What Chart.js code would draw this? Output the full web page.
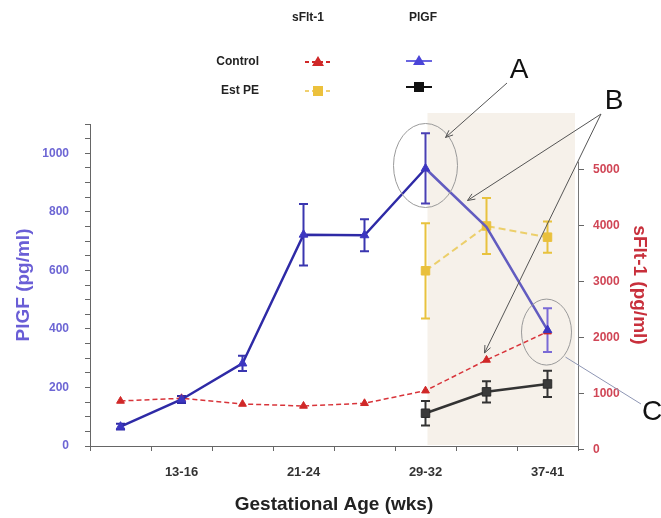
<!DOCTYPE html>
<html>
<head>
<meta charset="utf-8">
<script src="https://cdn.jsdelivr.net/npm/chart.js@4.4.1/dist/chart.umd.min.js"></script>
<style>
  html, body { margin: 0; padding: 0; background: #fff; }
  #wrap { width: 661px; height: 518px; }
</style>
</head>
<body>
<div id="wrap"><canvas id="chart" width="661" height="518"></canvas></div>
<script>
// gestational age groups (only every other one is labelled)
const ages = ['9-12', '13-16', '17-20', '21-24', '25-28', '29-32', '33-36', '37-41'];
const shownAges = ['13-16', '21-24', '29-32', '37-41'];

// PlGF (pg/ml), left axis
const plgfControl    = [66, 159, 282, 722, 720, 948, 748, 396];
const plgfControlErr = [10, 12, 26, 105, 55, 120, 0, 75];
const plgfEstPE      = [null, null, null, null, null, 112, 185, 212];
const plgfEstPEErr   = [0, 0, 0, 0, 0, 42, 36, 45];

// sFlt-1 (pg/ml), right axis
const sfltControl    = [875, 923, 821, 786, 834, 1059, 1607, 2113];
const sfltEstPE      = [null, null, null, null, null, 3200, 4000, 3800];
const sfltEstPEErr   = [0, 0, 0, 0, 0, 850, 500, 280];

const plgfTicks = [0, 200, 400, 600, 800, 1000];
const sfltTicks = [0, 1000, 2000, 3000, 4000, 5000];

const FONT = '"Liberation Sans", Arial, sans-serif';

// shaded "Est PE" region behind the data
const shadePlugin = {
    id: 'shade',
    beforeDatasetsDraw(chart) {
        const {ctx, chartArea, scales} = chart;
        const x0 = scales.x.getPixelForValue(5) + 2;
        ctx.save();
        ctx.fillStyle = '#f6f1ea';
        ctx.fillRect(x0, chartArea.top - 11, chartArea.right - 3 - x0, chartArea.bottom - chartArea.top + 10);
        // short right axis line
        ctx.strokeStyle = '#777';
        ctx.lineWidth = 1;
        ctx.beginPath();
        ctx.moveTo(chartArea.right + 0.5, chartArea.bottom);
        ctx.lineTo(chartArea.right + 0.5, scales.y1.getPixelForValue(5150));
        ctx.stroke();
        ctx.restore();
    }
};

// vertical error bars with caps
const errorBarPlugin = {
    id: 'errorBars',
    beforeDatasetsDraw(chart) {
        const {ctx} = chart;
        chart.data.datasets.forEach((ds, di) => {
            if (!ds.errors) return;
            const meta = chart.getDatasetMeta(di);
            const scale = chart.scales[ds.yAxisID];
            ctx.save();
            ctx.lineWidth = ds.errWidth || 2;
            ds.data.forEach((v, i) => {
                const e = ds.errors[i];
                if (v == null || !e) return;
                const x = meta.data[i].x;
                const yTop = scale.getPixelForValue(v + e);
                const yBot = scale.getPixelForValue(v - e);
                ctx.strokeStyle = Array.isArray(ds.errColor) ? ds.errColor[i] : ds.errColor;
                ctx.beginPath();
                ctx.moveTo(x, yTop); ctx.lineTo(x, yBot);
                ctx.moveTo(x - 4.5, yTop); ctx.lineTo(x + 4.5, yTop);
                ctx.moveTo(x - 4.5, yBot); ctx.lineTo(x + 4.5, yBot);
                ctx.stroke();
            });
            ctx.restore();
        });
    }
};

function arrow(ctx, x1, y1, x2, y2, head) {
    ctx.beginPath();
    ctx.moveTo(x1, y1);
    ctx.lineTo(x2, y2);
    ctx.stroke();
    if (!head) return;
    const a = Math.atan2(y2 - y1, x2 - x1);
    ctx.beginPath();
    ctx.moveTo(x2 - 8 * Math.cos(a - 0.4), y2 - 8 * Math.sin(a - 0.4));
    ctx.lineTo(x2, y2);
    ctx.lineTo(x2 - 8 * Math.cos(a + 0.4), y2 - 8 * Math.sin(a + 0.4));
    ctx.stroke();
}

function marker(ctx, style, x, y, color, dashed, lineColor) {
    ctx.save();
    ctx.strokeStyle = lineColor || color;
    ctx.lineWidth = 2;
    if (dashed) ctx.setLineDash([4, 3]);
    ctx.beginPath();
    ctx.moveTo(x - 13, y); ctx.lineTo(x + 13, y);
    ctx.stroke();
    ctx.setLineDash([]);
    ctx.fillStyle = color;
    ctx.beginPath();
    if (style === 'triangle') {
        ctx.moveTo(x, y - 6); ctx.lineTo(x + 6, y + 4); ctx.lineTo(x - 6, y + 4);
    } else {
        ctx.rect(x - 5, y - 5, 10, 10);
    }
    ctx.closePath();
    ctx.fill();
    ctx.restore();
}

// legend table, ellipses, arrows and letters
const overlayPlugin = {
    id: 'overlay',
    afterDraw(chart) {
        const {ctx, scales} = chart;
        const x = i => scales.x.getPixelForValue(i);
        ctx.save();
        ctx.fillStyle = '#222';
        ctx.font = 'bold 12px ' + FONT;
        ctx.textBaseline = 'middle';
        ctx.textAlign = 'center';
        ctx.fillText('sFlt-1', 308, 18);
        ctx.fillText('PlGF', 423, 18);
        ctx.textAlign = 'right';
        ctx.fillText('Control', 259, 62);
        ctx.fillText('Est PE', 259, 91);
        marker(ctx, 'triangle', 318, 62, '#d02828', true);
        marker(ctx, 'square', 318, 91, '#ecc13c', true, '#f0d070');
        marker(ctx, 'triangle', 419, 61, '#4a44d8', false, '#6a66e0');
        marker(ctx, 'square', 419, 87, '#111', false);

        // ellipses around the PlGF points
        const peak = {x: x(5), y: scales.y.getPixelForValue(plgfControl[5])};
        const last = {x: x(7), y: scales.y.getPixelForValue(plgfControl[7])};
        ctx.strokeStyle = '#9a9a9a';
        ctx.lineWidth = 1;
        ctx.beginPath();
        ctx.ellipse(peak.x, peak.y - 3, 32, 42, 0, 0, Math.PI * 2);
        ctx.stroke();
        ctx.beginPath();
        ctx.ellipse(last.x - 1, last.y + 2, 25, 33, 0, 0, Math.PI * 2);
        ctx.stroke();

        // arrows
        ctx.strokeStyle = '#555';
        arrow(ctx, 507, 83, peak.x + 20, peak.y - 31, true);
        arrow(ctx, 601, 114, peak.x + 42, peak.y + 32, true);
        const red6 = {x: x(6), y: scales.y1.getPixelForValue(sfltControl[6])};
        arrow(ctx, 601, 114, red6.x - 2, red6.y - 7, true);
        ctx.strokeStyle = '#8e96b4';
        arrow(ctx, 641, 404, last.x + 18, last.y + 27, false);

        ctx.fillStyle = '#111';
        ctx.font = '28px ' + FONT;
        ctx.textAlign = 'center';
        ctx.fillText('A', 519, 70);
        ctx.fillText('B', 614, 101);
        ctx.fillText('C', 652, 412);
        ctx.restore();
    }
};

const ctx = document.getElementById('chart');
new Chart(ctx, {
    type: 'line',
    data: {
        labels: ages,
        datasets: [
            {
                label: 'PlGF Control',
                data: plgfControl,
                errors: plgfControlErr,
                errColor: ['#2e2aa6', '#2e2aa6', '#3a36b0', '#3a36b0', '#3a36b0', '#4a40b4', '#6a62c8', '#7a6ad6'],
                yAxisID: 'y',
                borderColor: '#2e2aa6',
                segment: {borderColor: c => c.p0DataIndex >= 5 ? '#625cc0' : undefined},
                borderWidth: 2.5,
                pointStyle: 'triangle',
                pointRadius: [5, 5, 5, 5, 5, 5, 0, 5],
                pointBackgroundColor: '#3c36c0',
                pointBorderColor: '#3c36c0',
                pointBorderWidth: 1
            },
            {
                label: 'sFlt-1 Control',
                data: sfltControl,
                yAxisID: 'y1',
                borderColor: '#d8343a',
                borderDash: [5, 3],
                borderWidth: 1.5,
                pointStyle: 'triangle',
                pointRadius: 4.5,
                pointBackgroundColor: '#d02828',
                pointBorderColor: '#d02828',
                pointBorderWidth: 1
            },
            {
                label: 'sFlt-1 Est PE',
                data: sfltEstPE,
                errors: sfltEstPEErr,
                errColor: '#e8c23e',
                yAxisID: 'y1',
                borderColor: '#eccf6a',
                borderDash: [7, 4],
                borderWidth: 2,
                pointStyle: 'rect',
                pointRadius: 6,
                pointBackgroundColor: '#e9c03c',
                pointBorderColor: '#e9c03c',
                pointBorderWidth: 1
            },
            {
                label: 'PlGF Est PE',
                data: plgfEstPE,
                errors: plgfEstPEErr,
                errColor: '#333',
                yAxisID: 'y',
                borderColor: '#333',
                borderWidth: 2.5,
                pointStyle: 'rect',
                pointRadius: 6,
                pointBackgroundColor: '#3a3a3a',
                pointBorderColor: '#2a2a2a',
                pointBorderWidth: 1
            }
        ]
    },
    options: {
        responsive: false,
        animation: false,
        layout: {padding: {top: 124, left: 0, right: 0, bottom: 0}},
        plugins: {legend: {display: false}, tooltip: {enabled: false}},
        scales: {
            x: {
                offset: true,
                grid: {offset: true, drawOnChartArea: false, tickLength: 5, color: '#666'},
                border: {color: '#666'},
                ticks: {
                    autoSkip: false, maxRotation: 0, padding: 14, color: '#333',
                    font: {family: FONT, size: 13, weight: 'bold'},
                    callback: (v, i) => shownAges.includes(ages[i]) ? ages[i] : ''
                },
                title: {
                    display: true, text: 'Gestational Age (wks)', color: '#222',
                    font: {family: FONT, size: 19, weight: 'bold'}, padding: {top: 0, bottom: 2}
                },
                afterFit: s => { s.height = 72; }
            },
            y: {
                position: 'left',
                min: 0,
                max: 1100,
                grid: {drawOnChartArea: false, tickLength: 5, color: '#666'},
                border: {color: '#666'},
                ticks: {
                    stepSize: 50, autoSkip: false, padding: 16, color: '#6d66d4',
                    font: {family: FONT, size: 12, weight: 'bold'},
                    callback: v => plgfTicks.includes(v) ? String(v) : ''
                },
                title: {
                    display: true, text: 'PlGF (pg/ml)', color: '#6a5ed6',
                    font: {family: FONT, size: 19, weight: 'bold'}, padding: {top: 12, bottom: 0}
                },
                afterFit: s => { s.width = 90; }
            },
            y1: {
                position: 'right',
                min: 71,
                max: 5821,
                grid: {drawOnChartArea: false, tickLength: 6, color: '#666'},
                border: {display: false},
                ticks: {
                    autoSkip: false, padding: 9, color: '#d04656',
                    font: {family: FONT, size: 12, weight: 'bold'},
                    callback: v => String(v)
                },
                afterBuildTicks: s => { s.ticks = sfltTicks.map(v => ({value: v})); },
                title: {
                    display: true, text: 'sFlt-1 (pg/ml)', color: '#c8303c',
                    font: {family: FONT, size: 19, weight: 'bold'}, padding: {top: 10, bottom: 0}
                },
                afterFit: s => { s.width = 83; }
            }
        }
    },
    plugins: [shadePlugin, errorBarPlugin, overlayPlugin]
});
</script>
</body>
</html>
